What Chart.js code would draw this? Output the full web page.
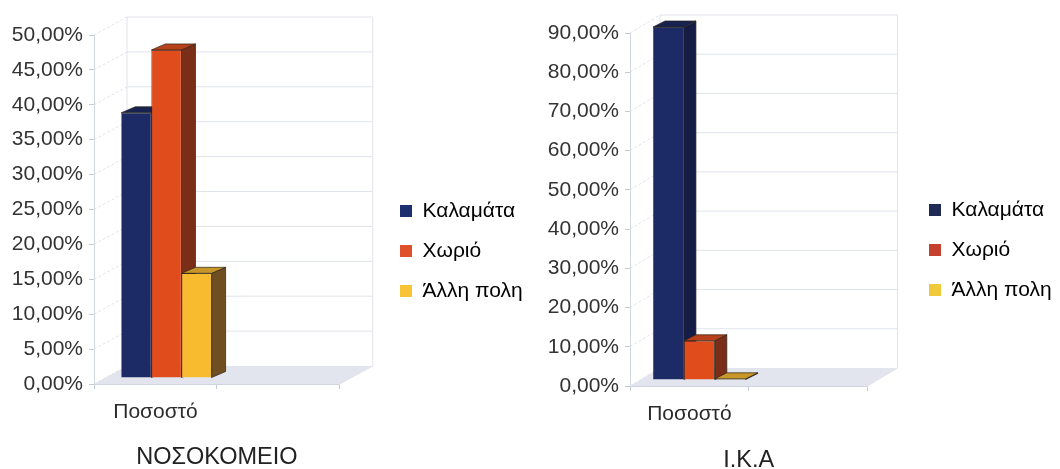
<!DOCTYPE html>
<html>
<head>
<meta charset="utf-8">
<script src="https://cdn.jsdelivr.net/npm/chart.js@4"></script>
<style>
  body { margin: 0; background: #fff; overflow: hidden; }
  canvas { position: absolute; top: 0; }
  #chartNosokomeio { left: 0; }
  #chartIka { left: 530px; }
</style>
</head>
<body>
<canvas id="chartNosokomeio" width="530" height="469"></canvas>
<canvas id="chartIka" width="530" height="469"></canvas>
<script>
// DATA
const categories = ["Ποσοστό", ""];
const seriesNames = ["Καλαμάτα", "Χωριό", "Άλλη πολη"];
const nosokomeioValues = [38, 47, 15];
const ikaValues = [90, 10, 0.3];

// COLORS
const frontColors = ["#1c2b66", "#e04c1c", "#f8bb30"];
const sideColors = ["#151c45", "#7a2e18", "#6f4e22"];
const topColors = ["#182250", "#b8401a", "#c9962a"];
const legendNosokomeio = ["#1c2f6e", "#e0502a", "#f8c436"];
const legendIka = ["#1f2a55", "#c4412f", "#f0c93a"];

function shade(ctx, points, color) {
    ctx.beginPath();
    points.forEach((p, i) => i ? ctx.lineTo(p[0], p[1]) : ctx.moveTo(p[0], p[1]));
    ctx.closePath();
    ctx.fillStyle = color;
    ctx.fill();
    ctx.lineWidth = 0.7;
    ctx.strokeStyle = "#2a2418";
    ctx.stroke();
}

// walls, floor and 3D bars, all taken from the chart's own scales and elements
const box3d = {
    id: "box3d",
    afterLayout(chart, args, opts) {
        chart.legend.left = opts.legendX;
        chart.legend.right = chart.width;
        chart.legend.top = opts.legendY;
    },
    beforeDatasetsDraw(chart, args, opts) {
        const ctx = chart.ctx;
        const xs = chart.scales.x;
        const ys = chart.scales.y;
        const d = opts.wall;

        ctx.save();
        ctx.beginPath();
        ctx.moveTo(xs.left, ys.bottom);
        ctx.lineTo(xs.right, ys.bottom);
        ctx.lineTo(xs.right + d[0], ys.bottom + d[1]);
        ctx.lineTo(xs.left + d[0], ys.bottom + d[1]);
        ctx.closePath();
        ctx.fillStyle = "#e2e5ee";
        ctx.fill();

        ctx.lineWidth = 1;
        ctx.strokeStyle = "#dfe3ea";
        ys.ticks.forEach(t => {
            const y = ys.getPixelForValue(t.value);
            ctx.setLineDash([]);
            if (t.value > 0) {
                ctx.beginPath();
                ctx.moveTo(xs.left + d[0], y + d[1]);
                ctx.lineTo(xs.right + d[0], y + d[1]);
                ctx.stroke();
            }
            ctx.setLineDash([3, 2]);
            ctx.beginPath();
            ctx.moveTo(xs.left, y);
            ctx.lineTo(xs.left + d[0], y + d[1]);
            ctx.stroke();
        });
        ctx.setLineDash([]);
        ctx.beginPath();
        ctx.moveTo(xs.left + d[0], ys.bottom + d[1]);
        ctx.lineTo(xs.left + d[0], ys.top + d[1]);
        ctx.moveTo(xs.right + d[0], ys.top + d[1]);
        ctx.lineTo(xs.right + d[0], ys.bottom + d[1]);
        ctx.lineTo(xs.right, ys.bottom);
        ctx.stroke();

        // left to right, so every bar covers the side of the one before it
        ctx.translate(opts.shift[0], opts.shift[1]);
        chart.data.datasets.forEach((ds, i) => {
            const bar = chart.getDatasetMeta(i).data[0];
            const left = bar.x - bar.width / 2;
            const right = bar.x + bar.width / 2;
            const dx = opts.depth[0];
            const dy = opts.depth[1];
            shade(ctx, [[right, bar.y], [right + dx, bar.y + dy], [right + dx, bar.base + dy], [right, bar.base]], sideColors[i]);
            shade(ctx, [[left, bar.y], [left + dx, bar.y + dy], [right + dx, bar.y + dy], [right, bar.y]], topColors[i]);
            bar.draw(ctx);
        });
        ctx.restore();
        return false;
    }
};

function makeChart(id, values, legendColors, cfg) {
    return new Chart(document.getElementById(id), {
        type: "bar",
        plugins: [box3d],
        data: {
            labels: categories,
            datasets: seriesNames.map((name, i) => ({
                label: name,
                data: [values[i], null],
                backgroundColor: frontColors[i],
                borderColor: "#2a2418",
                borderWidth: 0.7,
                categoryPercentage: cfg.group,
                barPercentage: 1
            }))
        },
        options: {
            responsive: false,
            animation: false,
            layout: { padding: { top: cfg.top, right: cfg.padRight, left: 0, bottom: 0 } },
            plugins: {
                tooltip: { enabled: false },
                legend: {
                    position: "right",
                    align: "start",
                    labels: {
                        boxWidth: 12,
                        boxHeight: 12,
                        padding: 19,
                        color: "#333",
                        font: { family: "Liberation Sans", size: 21 },
                        generateLabels: () => seriesNames.map((name, i) => ({
                            text: name,
                            fillStyle: legendColors[i],
                            strokeStyle: legendColors[i],
                            lineWidth: 0,
                            datasetIndex: i
                        }))
                    }
                },
                box3d: { wall: cfg.wall, shift: cfg.shift, depth: cfg.depth, legendX: cfg.legendX, legendY: cfg.legendY }
            },
            scales: {
                x: {
                    afterFit: s => { s.height = cfg.xHeight; },
                    grid: { drawOnChartArea: false, tickLength: 5, color: "#c4cad6" },
                    border: { color: "#d0d5df" },
                    ticks: { color: "#2b2b2b", padding: 11, maxRotation: 0, font: { family: "Liberation Sans", size: 21 } },
                    title: {
                        display: true,
                        text: cfg.title,
                        color: "#222",
                        padding: { top: 0, bottom: cfg.titlePad },
                        font: { family: "Liberation Sans", size: 23.5, lineHeight: 0.7 }
                    }
                },
                y: {
                    min: 0,
                    max: cfg.max,
                    afterFit: s => { s.width = cfg.yWidth; },
                    grid: { drawOnChartArea: false, tickLength: 5, color: "#c4cad6" },
                    border: { color: "#d0d5df" },
                    ticks: {
                        stepSize: cfg.step,
                        color: "#333",
                        padding: 6,
                        font: { family: "Liberation Sans", size: 21 },
                        callback: v => v.toFixed(2).replace(".", ",") + "%"
                    }
                }
            }
        }
    });
}

makeChart("chartNosokomeio", nosokomeioValues, legendNosokomeio, {
    title: "ΝΟΣΟΚΟΜΕΙΟ", max: 50, step: 5, top: 35, yWidth: 94, xHeight: 85, padRight: 77,
    group: 0.735, wall: [33, -18], shift: [11, -6], depth: [14, -6], titlePad: 3,
    legendX: 381, legendY: 181.5
});

makeChart("chartIka", ikaValues, legendIka, {
    title: "Ι.Κ.Α", max: 90, step: 10, top: 33, yWidth: 100, xHeight: 83, padRight: 80,
    group: 0.78, wall: [30, -18], shift: [10, -6], depth: [12, -6], titlePad: 0,
    legendX: 380, legendY: 180.5
});
</script>
</body>
</html>
